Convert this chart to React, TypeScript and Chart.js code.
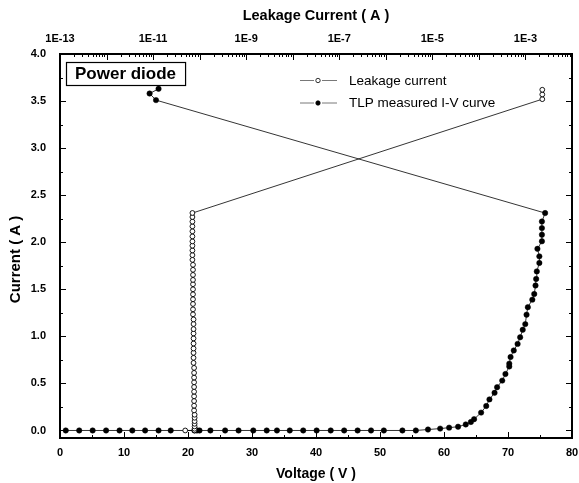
import React, { useEffect, useRef } from "react";
import { Chart, registerables } from "chart.js";

Chart.register(...registerables);

// ---- data ----
const voltageTicks = [0, 10, 20, 30, 40, 50, 60, 70, 80];
const currentTicks = [0, 0.5, 1.0, 1.5, 2.0, 2.5, 3.0, 3.5, 4.0];
const leakageTickLabels = [1e-13, 1e-11, 1e-9, 1e-7, 1e-5, 1e-3];

// Leakage current (top log axis, A) vs current (A)
const leakageA = [
  4.9e-11,
  7.8e-11, 7.8e-11, 7.8e-11, 7.8e-11, 7.8e-11, 7.8e-11, 7.8e-11,
  7.6e-11, 7.6e-11, 7.6e-11, 7.6e-11, 7.6e-11, 7.6e-11, 7.6e-11, 7.6e-11, 7.6e-11, 7.6e-11,
  7.4e-11, 7.4e-11, 7.4e-11, 7.4e-11, 7.4e-11, 7.4e-11, 7.4e-11, 7.4e-11, 7.4e-11, 7.4e-11,
  7.2e-11, 7.2e-11, 7.2e-11, 7.2e-11, 7.2e-11, 7.2e-11, 7.2e-11, 7.2e-11, 7.2e-11, 7.2e-11, 7.2e-11,
  7.0e-11, 7.0e-11, 7.0e-11, 7.0e-11, 7.0e-11, 7.0e-11, 7.0e-11, 7.0e-11, 7.0e-11, 7.0e-11, 7.0e-11,
  2.3e-3, 2.3e-3, 2.3e-3,
];
const leakageI = [
  0.0,
  0.0, 0.018, 0.043, 0.071, 0.099, 0.135, 0.167,
  0.213, 0.263, 0.313, 0.363, 0.412, 0.462, 0.512, 0.562, 0.612, 0.665,
  0.718, 0.772, 0.825, 0.871, 0.924, 0.978, 1.031, 1.077, 1.131, 1.18,
  1.234, 1.287, 1.344, 1.394, 1.447, 1.5, 1.554, 1.6, 1.653, 1.707, 1.76,
  1.813, 1.863, 1.913, 1.963, 2.009, 2.062, 2.116, 2.169, 2.219, 2.268, 2.311,
  3.52, 3.57, 3.62,
];

// TLP measured I-V curve (bottom axis, V) vs current (A)
const tlpV = [
  0.9, 3.0, 5.1, 7.2, 9.3, 11.3, 13.3, 15.4, 17.3, 21.0, 21.4, 21.8, 23.5, 25.8, 27.9,
  30.2, 32.3, 33.9, 35.9, 38.0, 40.1, 42.3, 44.4, 46.5, 48.6, 50.6, 53.5, 55.6, 57.5,
  59.4, 60.8, 62.2, 63.4, 64.2, 64.7, 65.8, 66.6, 67.1, 67.9, 68.3, 69.1, 69.6, 70.2,
  70.2, 70.4, 70.9, 71.5, 71.9, 72.3, 72.7, 72.9, 73.1, 73.8, 74.1, 74.3, 74.4, 74.5,
  74.9, 74.9, 74.6, 75.3, 75.3, 75.3, 75.3, 75.8,
  15.0, 14.0, 15.4,
];
const tlpI = [
  0, 0, 0, 0, 0, 0, 0, 0, 0, 0, 0, 0, 0, 0, 0,
  0, 0, 0, 0, 0, 0, 0, 0, 0, 0, 0, 0, 0, 0.01,
  0.02, 0.03, 0.04, 0.064, 0.09, 0.12, 0.19, 0.26, 0.33, 0.40, 0.46, 0.53, 0.60, 0.68,
  0.71, 0.78, 0.85, 0.92, 0.99, 1.07, 1.13, 1.23, 1.31, 1.39, 1.45, 1.54, 1.61, 1.69,
  1.78, 1.85, 1.93, 2.01, 2.08, 2.15, 2.22, 2.31,
  3.51, 3.58, 3.63,
];

const FONT = '"Liberation Sans", Arial, sans-serif';

const framePlugin = {
  id: "frame",
  afterDraw(chart: any) {
    const { ctx, chartArea: a, scales } = chart;
    ctx.save();
    ctx.strokeStyle = "#000";
    // right border
    ctx.lineWidth = 2;
    ctx.beginPath();
    ctx.moveTo(a.right, a.top);
    ctx.lineTo(a.right, a.bottom);
    ctx.stroke();
    ctx.lineWidth = 1;
    // bottom ticks
    const x = scales.x;
    for (let v = 0; v <= 80; v += 5) {
      const px = Math.round(x.getPixelForValue(v)) + 0.5;
      const len = v % 10 === 0 ? 6 : 3;
      ctx.beginPath();
      ctx.moveTo(px, a.bottom);
      ctx.lineTo(px, a.bottom - len);
      ctx.stroke();
    }
    // left & right ticks
    const y = scales.y;
    for (let i = 0; i <= 16; i++) {
      const v = i * 0.25;
      const py = Math.round(y.getPixelForValue(v)) + 0.5;
      const len = i % 2 === 0 ? 6 : 3;
      ctx.beginPath();
      ctx.moveTo(a.left, py);
      ctx.lineTo(a.left + len, py);
      ctx.moveTo(a.right, py);
      ctx.lineTo(a.right - len, py);
      ctx.stroke();
    }
    // top log ticks
    const x2 = scales.x2;
    for (let e = -13; e <= -3; e++) {
      for (let m = 1; m <= 9; m++) {
        const v = m * Math.pow(10, e);
        const px = Math.round(x2.getPixelForValue(v)) + 0.5;
        if (px > a.right) continue;
        const len = m === 1 ? 6 : 3;
        ctx.beginPath();
        ctx.moveTo(px, a.top);
        ctx.lineTo(px, a.top + len);
        ctx.stroke();
      }
    }
    // y axis title
    ctx.save();
    ctx.translate(16, a.top + (a.bottom - a.top) * 0.535);
    ctx.rotate(-Math.PI / 2);
    ctx.font = `bold 15px ${FONT}`;
    ctx.textAlign = "center";
    ctx.textBaseline = "middle";
    ctx.fillStyle = "#000";
    ctx.fillText("Current ( A )", 0, 0);
    ctx.restore();
    // "Power diode" label box
    ctx.font = `bold 17px ${FONT}`;
    ctx.textBaseline = "middle";
    ctx.textAlign = "left";
    const label = "Power diode";
    const tw = ctx.measureText(label).width;
    const bx = a.left + 6;
    const by = a.top + 8;
    ctx.fillStyle = "#fff";
    ctx.fillRect(bx + 0.5, by + 0.5, tw + 18, 23);
    ctx.lineWidth = 1.2;
    ctx.strokeRect(bx + 0.5, by + 0.5, tw + 18, 23);
    ctx.fillStyle = "#000";
    ctx.fillText(label, bx + 9, by + 12.5);
    // legend
    ctx.font = `13.5px ${FONT}`;
    const lx = 300;
    chart.data.datasets.forEach((ds: any, i: number) => {
      const ly = 80 + i * 22.5;
      ctx.strokeStyle = "#555";
      ctx.lineWidth = 0.8;
      ctx.beginPath();
      ctx.moveTo(lx, ly + 0.5);
      ctx.lineTo(lx + 14, ly + 0.5);
      ctx.moveTo(lx + 22, ly + 0.5);
      ctx.lineTo(lx + 37, ly + 0.5);
      ctx.stroke();
      ctx.beginPath();
      ctx.arc(lx + 18, ly + 0.5, 2.2, 0, Math.PI * 2);
      ctx.fillStyle = ds.pointBackgroundColor;
      ctx.fill();
      ctx.strokeStyle = "#000";
      ctx.stroke();
      ctx.fillStyle = "#000";
      ctx.fillText(ds.label, lx + 49, ly + 1);
    });
    ctx.restore();
  },
};

export default function App() {
  const ref = useRef<HTMLCanvasElement | null>(null);
  useEffect(() => {
    if (!ref.current) return;
    const tickFont = { family: FONT, size: 11, weight: "bold" as const };
    const titleFont = { family: FONT, size: 14, weight: "bold" as const };
    const chart = new Chart(ref.current, {
      type: "scatter",
      data: {
        datasets: [
          {
            label: "Leakage current",
            data: leakageA.map((v, i) => ({ x: v, y: leakageI[i] })),
            xAxisID: "x2",
            yAxisID: "y",
            showLine: true,
            borderColor: "#000",
            borderWidth: 0.8,
            pointRadius: 2.4,
            pointBackgroundColor: "#fff",
            pointBorderColor: "#000",
            pointBorderWidth: 0.9,
          },
          {
            label: "TLP measured I-V curve",
            data: tlpV.map((v, i) => ({ x: v, y: tlpI[i] })),
            xAxisID: "x",
            yAxisID: "y",
            showLine: true,
            borderColor: "#000",
            borderWidth: 0.8,
            pointRadius: 2.7,
            pointBackgroundColor: "#000",
            pointBorderColor: "#000",
            pointBorderWidth: 0.5,
          },
        ],
      },
      options: {
        animation: false,
        responsive: false,
        layout: { padding: { left: 0, right: 7, top: 0, bottom: 0 } },
        plugins: { legend: { display: false }, tooltip: { enabled: false } },
        scales: {
          x: {
            type: "linear",
            position: "bottom",
            min: 0,
            max: 80,
            afterBuildTicks: (s: any) => {
              s.ticks = voltageTicks.map((v) => ({ value: v }));
            },
            afterFit: (s: any) => {
              s.height = 45;
              s.paddingLeft = 0;
              s.paddingRight = 0;
            },
            ticks: { color: "#000", font: tickFont, padding: 8, maxRotation: 0, autoSkip: false },
            grid: { display: false, drawTicks: false },
            border: { color: "#000", width: 2 },
            title: { display: true, text: "Voltage ( V )", color: "#000", font: titleFont, padding: 0 },
          },
          x2: {
            type: "logarithmic",
            position: "top",
            min: 1e-13,
            max: 1e-2,
            afterBuildTicks: (s: any) => {
              s.ticks = leakageTickLabels.map((v) => ({ value: v }));
            },
            afterFit: (s: any) => {
              s.height = 54;
              s.paddingLeft = 0;
              s.paddingRight = 0;
            },
            ticks: {
              color: "#000",
              font: tickFont,
              padding: 8,
              maxRotation: 0,
              autoSkip: false,
              callback: (v: any) => "1E" + Math.round(Math.log10(Number(v))),
            },
            grid: { display: false, drawTicks: false },
            border: { color: "#000", width: 2 },
            title: {
              display: true,
              text: "Leakage Current ( A )",
              color: "#000",
              font: { ...titleFont, size: 14.5 },
              padding: { top: 7, bottom: 0 },
            },
          },
          y: {
            type: "linear",
            position: "left",
            min: -0.08,
            max: 4.0,
            afterBuildTicks: (s: any) => {
              s.ticks = currentTicks.map((v) => ({ value: v }));
            },
            afterFit: (s: any) => {
              s.width = 60;
              s.paddingTop = 0;
              s.paddingBottom = 0;
            },
            ticks: {
              color: "#000",
              font: tickFont,
              padding: 14,
              autoSkip: false,
              callback: (v: any) => Number(v).toFixed(1),
            },
            grid: { display: false, drawTicks: false },
            border: { color: "#000", width: 2 },
            title: { display: false },
          },
        },
      },
      plugins: [framePlugin],
    });
    return () => chart.destroy();
  }, []);
  return (
    <div style={{ position: "absolute", left: 0, top: 0, width: 579, height: 483, background: "#fff" }}>
      <canvas ref={ref} width={579} height={483} style={{ display: "block" }} />
    </div>
  );
}
